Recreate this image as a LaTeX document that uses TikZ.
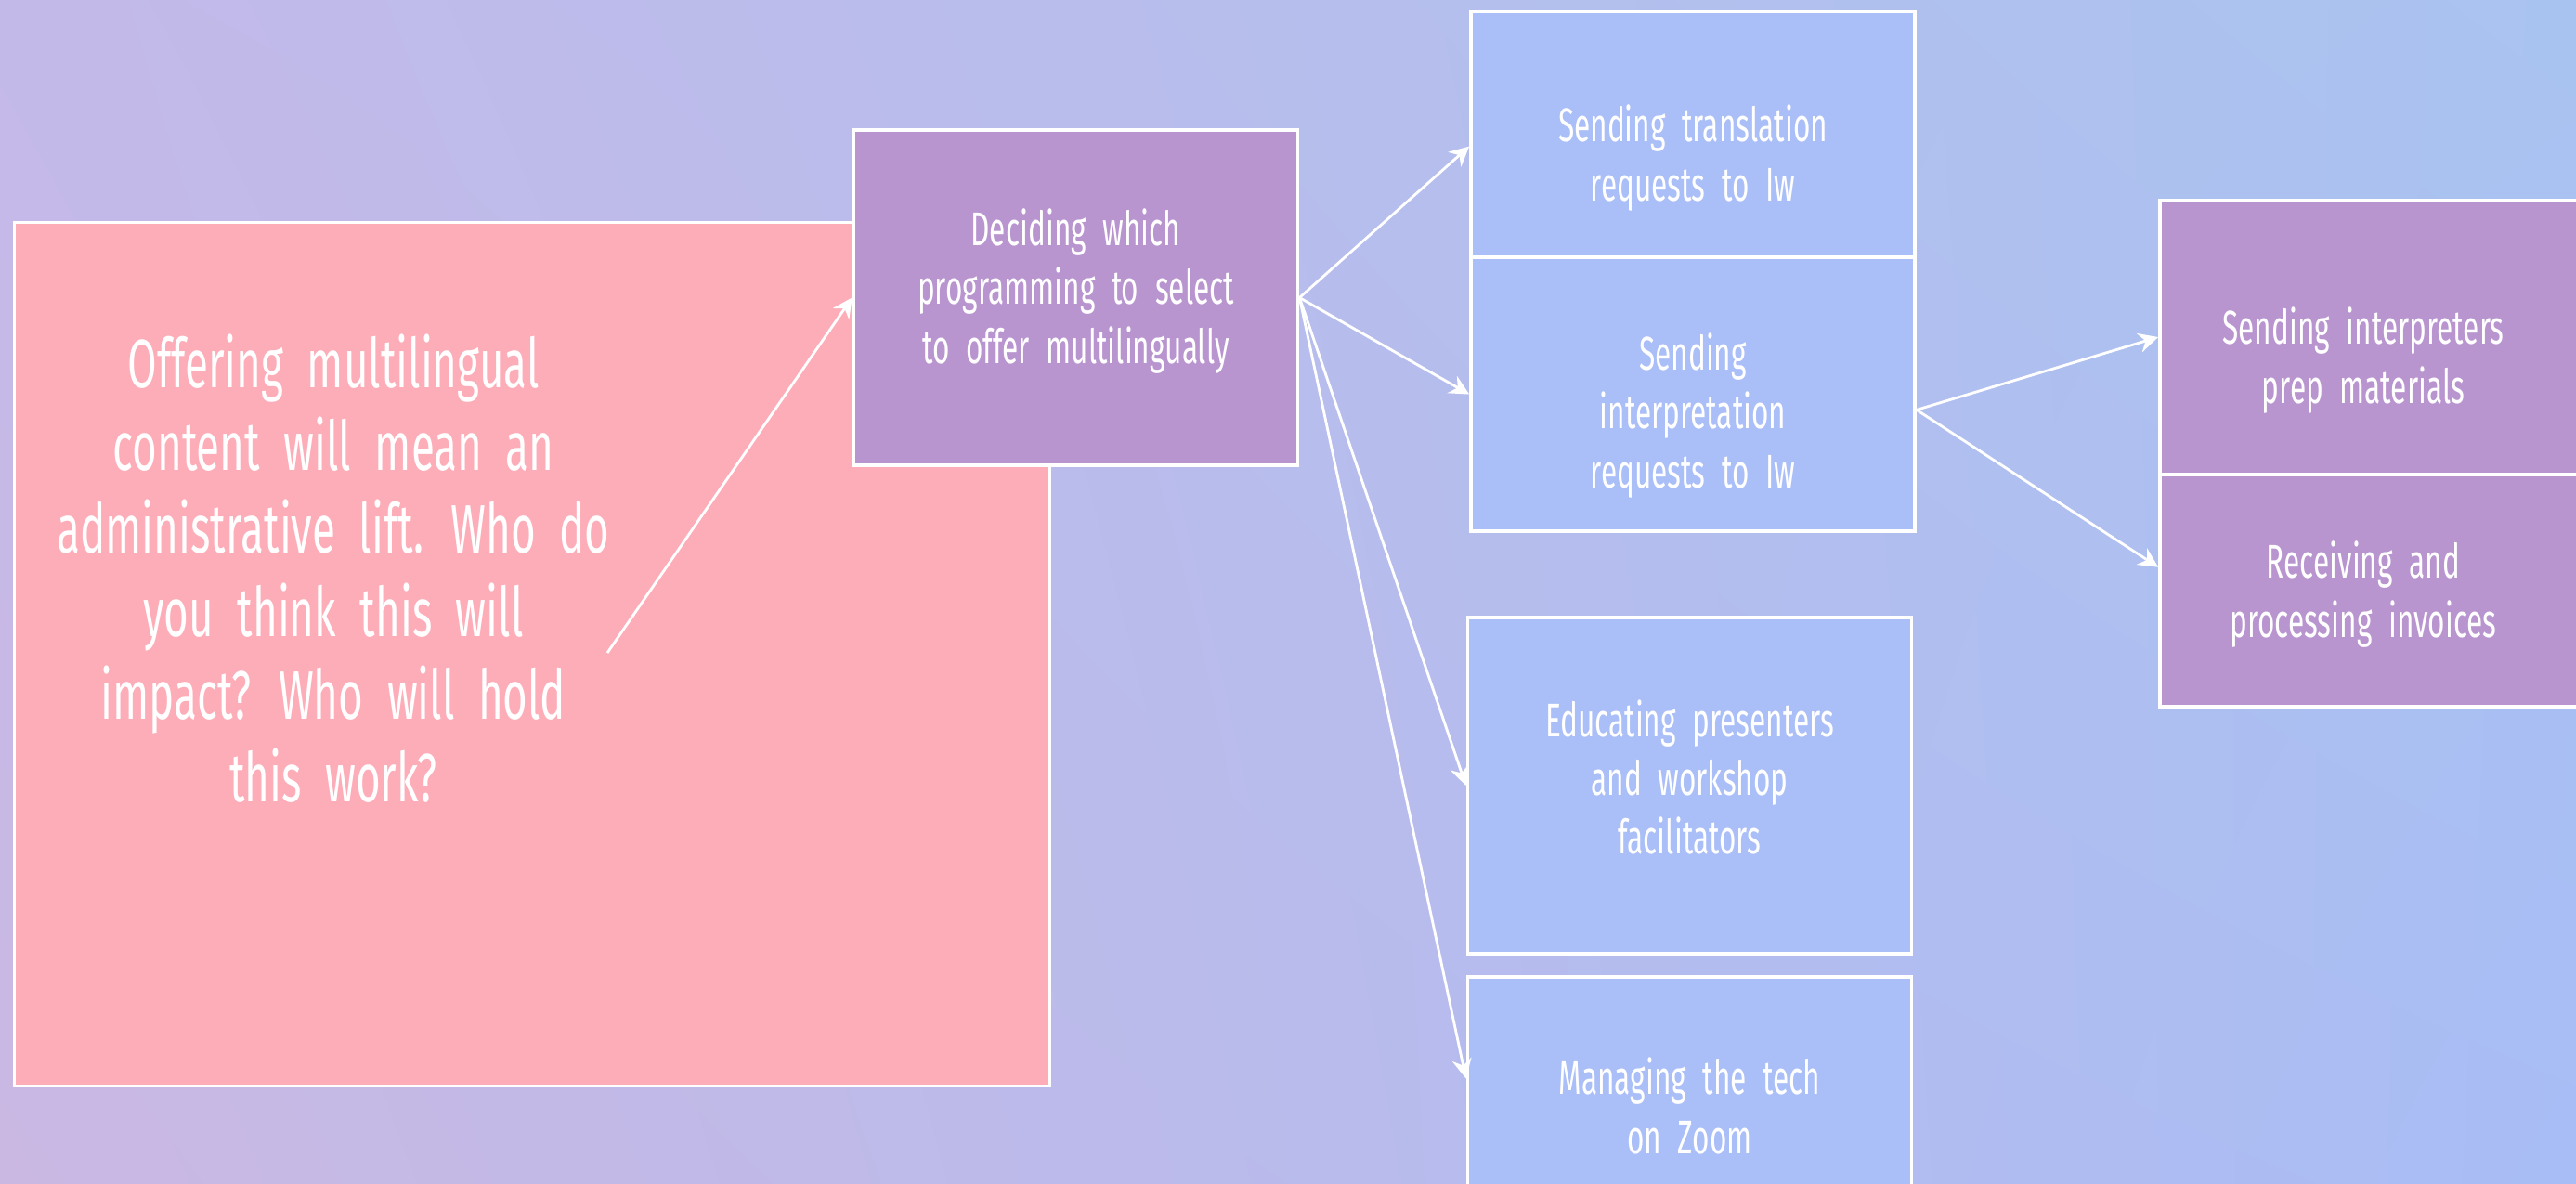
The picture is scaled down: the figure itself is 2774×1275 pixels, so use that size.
\documentclass[tikz,border=0pt]{standalone}
\usepackage{fontspec}
\setmainfont[FakeStretch=0.62, WordSpace=2.1]{Fira Sans}
\usetikzlibrary{arrows.meta, shadings}
\definecolor{bgTL}{HTML}{C3B9E9}
\definecolor{bgTR}{HTML}{A9C3F0}
\definecolor{bgBL}{HTML}{CAB8E2}
\definecolor{bgBR}{HTML}{A8BDF5}
\definecolor{askPink}{HTML}{FDADB8}
\definecolor{taskPurple}{HTML}{B995D0}
\definecolor{taskBlue}{HTML}{AABEF7}

\begin{document}
\begin{tikzpicture}[x=0.01cm, y=-0.01cm,
          box/.style={draw=white, line width=1pt, fill=taskBlue, minimum width=4.78cm},
          pbox/.style={box, fill=taskPurple},
          txt/.style={align=center, text=white, font=\fontsize{14.5}{18}\selectfont},
          arr/.style={-{Stealth[length=6pt, width=6pt]}, white, line width=0.8pt}
        ]
        \useasboundingbox (0,0) rectangle (2774,1275);
        \clip (0,0) rectangle (2774,1275);
        \shade[shading=bilinear interpolation,
               upper left=bgTL, upper right=bgTR, lower left=bgBL, lower right=bgBR]
              (0,0) rectangle (2774,1275);

        \node[box, fill=askPink, minimum width=11.14cm, minimum height=9.29cm] (offer) at (573,704.5) {};
        \node[txt, font=\fontsize{21}{25.4}\selectfont] (offer-t) at (359,612)
              {Offering multilingual\\content will mean an\\administrative lift. Who do\\you think this will\\impact? Who will hold\\this work?};
        \coordinate (offerpt) at (654,703);

        % boxes
        \node[pbox, minimum height=3.61cm] (decide)  at (1158.5,320.5) {};
        \node[box,  minimum height=2.65cm] (trans)   at (1823,145)     {};
        \node[box,  minimum height=2.95cm] (interp)  at (1823,424.5)   {};
        \node[box,  minimum height=3.62cm] (educ)    at (1819.5,846)   {};
        \node[box,  minimum height=2.78cm] (tech)    at (1819.5,1191)  {};
        \node[pbox, minimum height=2.95cm] (prep)    at (2565,363)     {};
        \node[pbox, minimum height=2.50cm] (invoice) at (2565,636)     {};

        % box texts
        \node[txt, yshift=0.07cm]  (decide-t)  at (decide)  {Deciding which\\programming to select\\to offer multilingually};
        \node[txt, yshift=-0.25cm] (trans-t)   at (trans)   {Sending translation\\requests to Iw};
        \node[txt, yshift=-0.23cm] (interp-t)  at (interp)  {Sending\\interpretation\\requests to Iw};
        \node[txt, yshift=0.09cm]  (educ-t)    at (educ)    {Educating presenters\\and workshop\\facilitators};
        \node[txt]                 (tech-t)    at (tech)    {Managing the tech\\on Zoom};
        \node[txt, yshift=-0.25cm, xshift=-0.2cm] (prep-t) at (prep) {Sending interpreters\\prep materials};
        \node[txt, yshift=-0.04cm, xshift=-0.2cm] (invoice-t) at (invoice) {Receiving and\\processing invoices};

        \draw[arr] (offerpt) -- (decide.west);
        \draw[arr] (decide.east) -- (trans.183);
        \draw[arr] (decide.east) -- (interp.west);
        \draw[arr] (decide.east) -- (educ.west);
        \draw[arr] (decide.east) -- (tech.173);
        \draw[arr] (interp.356) -- (prep.west);
        \draw[arr] (interp.356) -- (invoice.174);
      \end{tikzpicture}
\end{document}
